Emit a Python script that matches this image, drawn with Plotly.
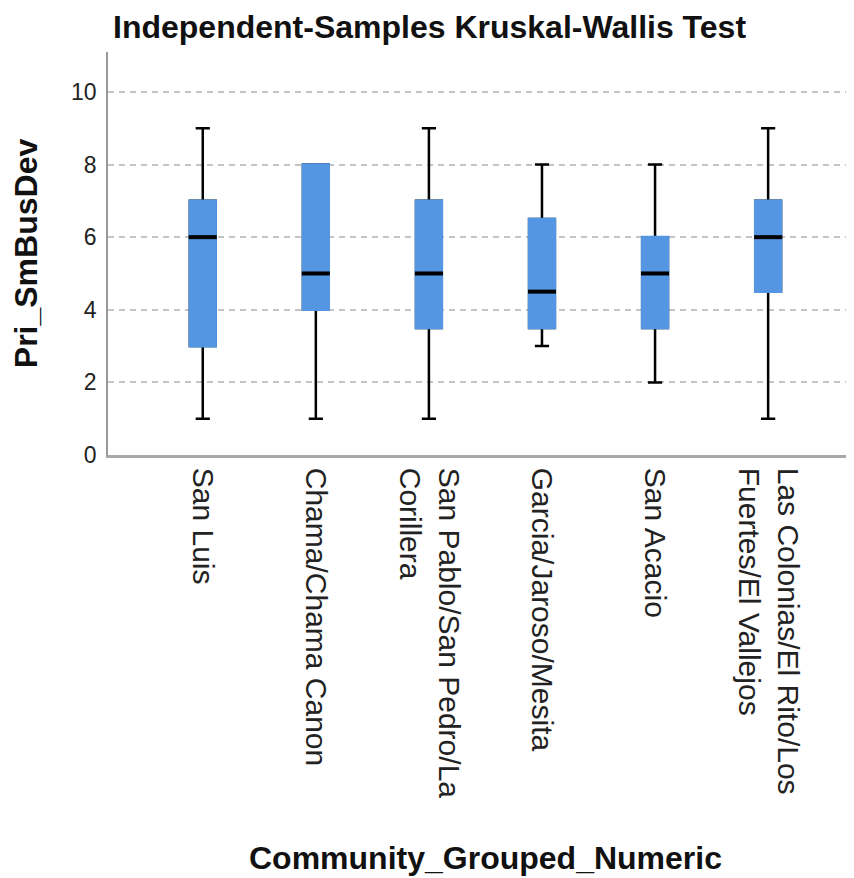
import plotly.graph_objects as go

categories = ["San Luis", "Chama/Chama Canon", "San Pablo/San Pedro/La<br>Corillera",
              "Garcia/Jaroso/Mesita", "San Acacio", "Las Colonias/El Rito/Los<br>Fuertes/El Vallejos"]
lower = [1, 1, 1, 3, 2, 1]
q1 = [3, 4, 3.5, 3.5, 3.5, 4.5]
median = [6, 5, 5, 4.5, 5, 6]
q3 = [7, 8, 7, 6.5, 6, 7]
upper = [9, 8, 9, 8, 8, 9]
y_ticks = [0, 2, 4, 6, 8, 10]

BLUE = "#5596E3"
BOXW = 0.228
FONT = "Liberation Sans, Arial, sans-serif"
W, H = 846, 870  # page body adds 8px margin
xpos = list(range(len(categories)))

fig = go.Figure()
# whiskers + caps (black)
fig.add_trace(go.Box(x=xpos, q1=q1, median=median, q3=q3, lowerfence=lower, upperfence=upper,
                     width=BOXW, whiskerwidth=0.55, fillcolor=BLUE,
                     line=dict(color="black", width=2.5), boxpoints=False,
                     showlegend=False, hoverinfo="skip"))
# blue box on top hiding black outline
fig.add_trace(go.Box(x=xpos, q1=q1, median=median, q3=q3, lowerfence=q1, upperfence=q3,
                     width=BOXW, whiskerwidth=0, fillcolor=BLUE,
                     line=dict(color=BLUE, width=2.6), boxpoints=False,
                     showlegend=False, hoverinfo="skip"))
# median lines
mx, my = [], []
for i, m in zip(xpos, median):
    mx += [i - BOXW / 2 - 0.01, i + BOXW / 2 + 0.01, None]
    my += [m, m, None]
fig.add_trace(go.Scatter(x=mx, y=my, mode="lines", line=dict(color="black", width=4),
                         showlegend=False, hoverinfo="skip"))

fig.update_layout(
    width=W, height=H,
    margin=dict(l=100, r=4, t=44, b=423),
    paper_bgcolor="white", plot_bgcolor="white",
    boxmode="overlay",
    font=dict(family=FONT, color="#222"),
    title=dict(text="<b>Independent-Samples Kruskal-Wallis Test</b>",
               font=dict(size=32, color="#111", family=FONT),
               x=105 / W, xref="container", xanchor="left",
               y=1 - 8 / H, yref="container", yanchor="top"),
    annotations=[dict(text="<b>Community_Grouped_Numeric</b>", xref="paper", yref="paper",
                      x=0.509, y=0, xanchor="center", yanchor="middle", yshift=-403,
                      showarrow=False, font=dict(size=32, color="#111", family=FONT))],
)
fig.update_xaxes(
    range=[-0.838, 5.724], tickmode="array", tickvals=xpos, ticktext=categories,
    tickangle=90, tickfont=dict(size=30, color="#222", family=FONT),
    showgrid=False, zeroline=False, showline=True, linecolor="#a8a8a8", linewidth=2.5,
    ticks="", ticklabelstandoff=4,
)
fig.update_yaxes(
    range=[0, 11.1], tickmode="array", tickvals=y_ticks,
    tickfont=dict(size=23, color="#222", family=FONT),
    showgrid=True, gridcolor="#c4c4c4", gridwidth=1.5, griddash="6px,5px",
    zeroline=False, showline=True, linecolor="#999", linewidth=1.5,
    ticks="", ticklabelstandoff=5,
    title=dict(text="<b>Pri_SmBusDev</b>", font=dict(size=32, color="#111", family=FONT),
               standoff=24),
)

fig.write_html("out.html")
